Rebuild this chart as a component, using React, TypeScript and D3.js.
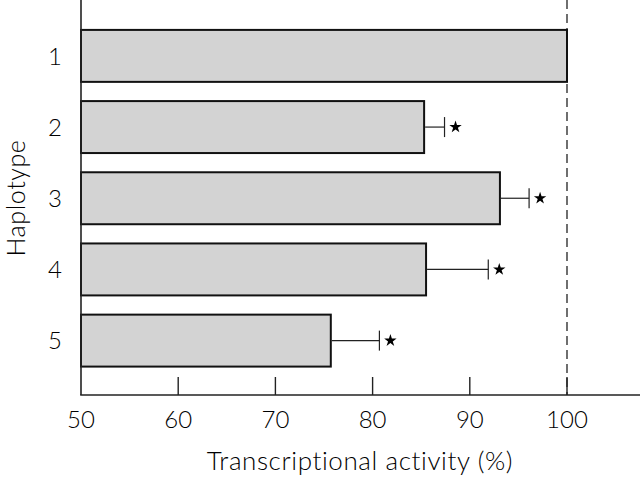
import React from 'react';
import * as d3 from 'd3';

const haplotypes = ['1', '2', '3', '4', '5'];
const activity = [100, 85.3, 93.1, 85.5, 75.7];
const errorUp = [0, 2.1, 3.0, 6.4, 5.0];
const significant = [false, true, true, true, true];
const xTicks = [50, 60, 70, 80, 90, 100];
const referenceValue = 100;
const xTitle = 'Transcriptional activity (%)';
const yTitle = 'Haplotype';

const W = 640;
const H = 480;
const FONT = 'Lato, "Open Sans", sans-serif';

export default function App() {
  const x = d3.scaleLinear().domain([50, 100]).range([81, 567]);
  const y = d3.scaleBand<string>().domain(haplotypes).range([20.3, 376.2]).paddingInner(0.27).paddingOuter(0.135);
  const axisY = 395;
  const star = d3.symbol().type(d3.symbolStar).size(48)() as string;

  return (
    <svg width={W} height={H} style={{ position: 'absolute', left: 0, top: 0, background: '#fff' }}>
      <line x1={x(referenceValue)} x2={x(referenceValue)} y1={0} y2={axisY} stroke="#222" strokeWidth={1.3} strokeDasharray="9,5" />
      {haplotypes.map((h, i) => {
        const y0 = y(h)!;
        const bw = y.bandwidth();
        const cy = y0 + bw / 2;
        const xe = x(activity[i] + errorUp[i]);
        return (
          <g key={h}>
            <rect x={x(50)} y={y0} width={x(activity[i]) - x(50)} height={bw} fill="#d3d3d3" stroke="#111" strokeWidth={2} />
            {errorUp[i] > 0 && (
              <g stroke="#222" strokeWidth={1.2}>
                <line x1={x(activity[i]) + 1} x2={xe} y1={cy} y2={cy} />
                <line x1={xe} x2={xe} y1={cy - 10} y2={cy + 10} />
              </g>
            )}
            {significant[i] && <path d={star} transform={`translate(${xe + 11},${cy})`} fill="#000" />}
            <text x={55} y={cy} dy="0.36em" textAnchor="middle" fontFamily={FONT} fontWeight={300} fontSize={24} fill="#000">{h}</text>
          </g>
        );
      })}
      <line x1={81} x2={81} y1={0} y2={axisY} stroke="#222" strokeWidth={1.6} />
      <line x1={80.2} x2={W} y1={axisY} y2={axisY} stroke="#222" strokeWidth={1.6} />
      {xTicks.map((t) => (
        <g key={t}>
          {t > 50 && <line x1={x(t)} x2={x(t)} y1={axisY - 18} y2={axisY} stroke="#222" strokeWidth={1.4} />}
          <text x={x(t)} y={428} textAnchor="middle" fontFamily={FONT} fontWeight={300} fontSize={24} fill="#000">{t}</text>
        </g>
      ))}
      <text x={360} y={470} textAnchor="middle" fontFamily={FONT} fontWeight={300} fontSize={26} letterSpacing={0.6} fill="#000">{xTitle}</text>
      <text transform={`translate(25,198) rotate(-90)`} textAnchor="middle" fontFamily={FONT} fontWeight={300} fontSize={25} letterSpacing={0.6} fill="#000">{yTitle}</text>
    </svg>
  );
}
